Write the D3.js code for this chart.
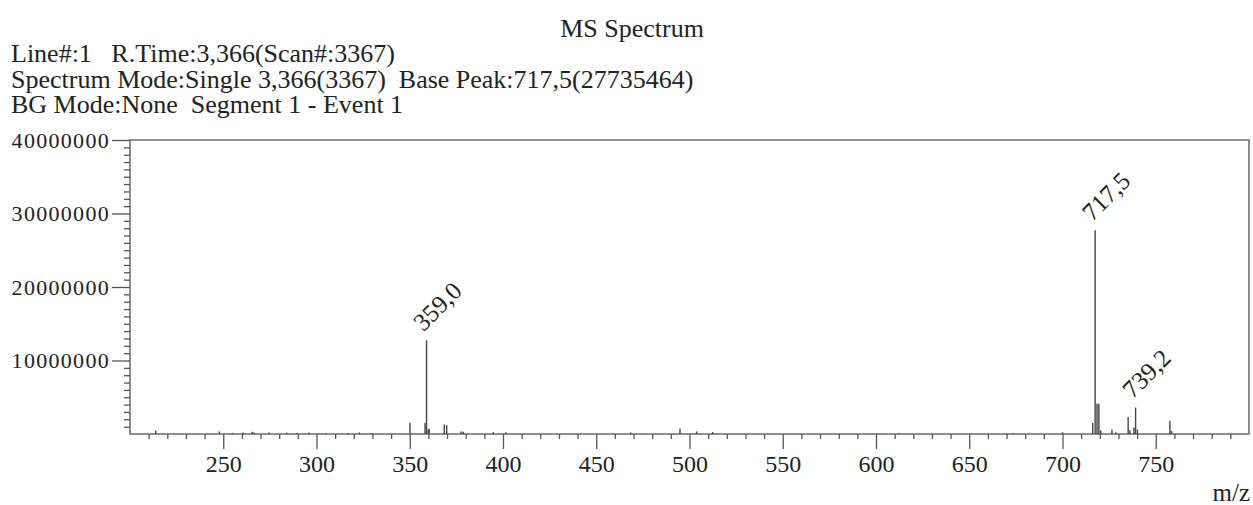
<!DOCTYPE html>
<html>
<head>
<meta charset="utf-8">
<script src="https://cdn.jsdelivr.net/npm/d3@7"></script>
<style>
  body { margin: 0; background: #fff; }
  svg text { font-family: "Liberation Serif", "Times New Roman", serif; fill: #222; }
</style>
</head>
<body>
<div id="chart"></div>
<script>
// header lines
var title = 'MS Spectrum'
var infoLines = [
  'Line#:1   R.Time:3,366(Scan#:3367)',
  'Spectrum Mode:Single 3,366(3367)  Base Peak:717,5(27735464)',
  'BG Mode:None  Segment 1 - Event 1'
]

// peaks (m/z, intensity)
var mz = [213.8, 247.9, 255, 260.6, 265.5, 266.5, 274.6, 284, 289.5, 296, 305, 317, 323, 329.6,
  350.1, 358.2, 359.0, 359.9, 360.4, 368.5, 369.8, 377.5, 378.7, 394.8, 401.6, 468.5,
  494.9, 503.8, 512.4, 612.5, 673.6, 700, 716.2, 717.5, 718.5, 719.5, 720.5, 726.5, 728.6,
  735.2, 736.1, 738.3, 739.2, 740.2, 757.6, 758.5]
var intensity = [450000, 350000, 150000, 200000, 300000, 200000, 200000, 200000, 150000, 200000, 150000, 150000, 200000, 150000,
  1500000, 1500000, 12750000, 600000, 700000, 1300000, 1200000, 350000, 300000, 250000, 250000, 200000,
  750000, 350000, 250000, 150000, 100000, 250000, 1500000, 27735464, 4100000, 4100000, 500000, 600000, 250000,
  2300000, 500000, 900000, 3600000, 600000, 1800000, 400000]

// labelled peaks
var labelMz = [359.0, 717.5, 739.2]
var labelText = ['359,0', '717,5', '739,2']

var xTicks = [250, 300, 350, 400, 450, 500, 550, 600, 650, 700, 750]
var yTicks = [10000000, 20000000, 30000000, 40000000]

var width = 1253
var height = 505
var plotLeft = 130
var plotRight = 1249
var plotTop = 140
var plotBottom = 434

var x = d3.scaleLinear().domain([200, 800]).range([plotLeft, plotRight])
var y = d3.scaleLinear().domain([0, 40000000]).range([plotBottom, plotTop])

var svg = d3.select('#chart').append('svg')
  .attr('width', width)
  .attr('height', height)

// header
svg.append('text')
  .attr('x', 632).attr('y', 37)
  .attr('text-anchor', 'middle')
  .style('font-size', '26px')
  .text(title)

svg.selectAll('.info').data(infoLines).enter().append('text')
  .attr('class', 'info')
  .attr('x', 11)
  .attr('y', function (d, i) { return 62 + i * 25.5 })
  .style('font-size', '26px')
  .style('white-space', 'pre')
  .text(function (d) { return d })

// frame
svg.append('rect')
  .attr('x', plotLeft).attr('y', plotTop)
  .attr('width', plotRight - plotLeft).attr('height', plotBottom - plotTop)
  .attr('fill', 'none').attr('stroke', '#555').attr('stroke-width', 1.3)

// x axis minor + major
var xMinor = x.ticks(60).filter(function (d) { return d > 200 && d < 800 && xTicks.indexOf(d) < 0 })
svg.append('g')
  .attr('transform', 'translate(0,' + plotBottom + ')')
  .call(d3.axisBottom(x).tickValues(xMinor).tickSize(5).tickFormat(''))
var gx = svg.append('g')
  .attr('transform', 'translate(0,' + plotBottom + ')')
  .call(d3.axisBottom(x).tickValues(xTicks).tickSize(15).tickPadding(6).tickFormat(d3.format('d')))
gx.selectAll('text').style('font-size', '24px')

// y axis minor + major
var yMinor = y.ticks(40).filter(function (d) { return d > 0 && yTicks.indexOf(d) < 0 })
svg.append('g')
  .attr('transform', 'translate(' + plotLeft + ',0)')
  .call(d3.axisLeft(y).tickValues(yMinor).tickSize(6).tickFormat(''))
var gy = svg.append('g')
  .attr('transform', 'translate(' + plotLeft + ',0)')
  .call(d3.axisLeft(y).tickValues(yTicks).tickSize(18).tickPadding(2).tickFormat(d3.format('d')))
gy.selectAll('text').style('font-size', '22px').style('letter-spacing', '1.3px')

svg.selectAll('.domain').remove()
svg.selectAll('.tick line').attr('stroke', '#555').attr('stroke-width', 1.3)

// x axis title
svg.append('text')
  .attr('x', 1250).attr('y', 501)
  .attr('text-anchor', 'end')
  .style('font-size', '25px')
  .text('m/z')

// peaks
svg.append('g').selectAll('line').data(mz).enter().append('line')
  .attr('x1', function (d) { return x(d) })
  .attr('x2', function (d) { return x(d) })
  .attr('y1', y(0))
  .attr('y2', function (d, i) { return y(intensity[i]) })
  .attr('stroke', '#444')
  .attr('stroke-width', 1.4)

// peak labels
svg.append('g').selectAll('text').data(labelMz).enter().append('text')
  .attr('transform', function (d) {
    var v = intensity[mz.indexOf(d)]
    return 'translate(' + (x(d) - 3) + ',' + (y(v) - 8) + ') rotate(-45)'
  })
  .style('font-size', '25px')
  .text(function (d, i) { return labelText[i] })
</script>
</body>
</html>
